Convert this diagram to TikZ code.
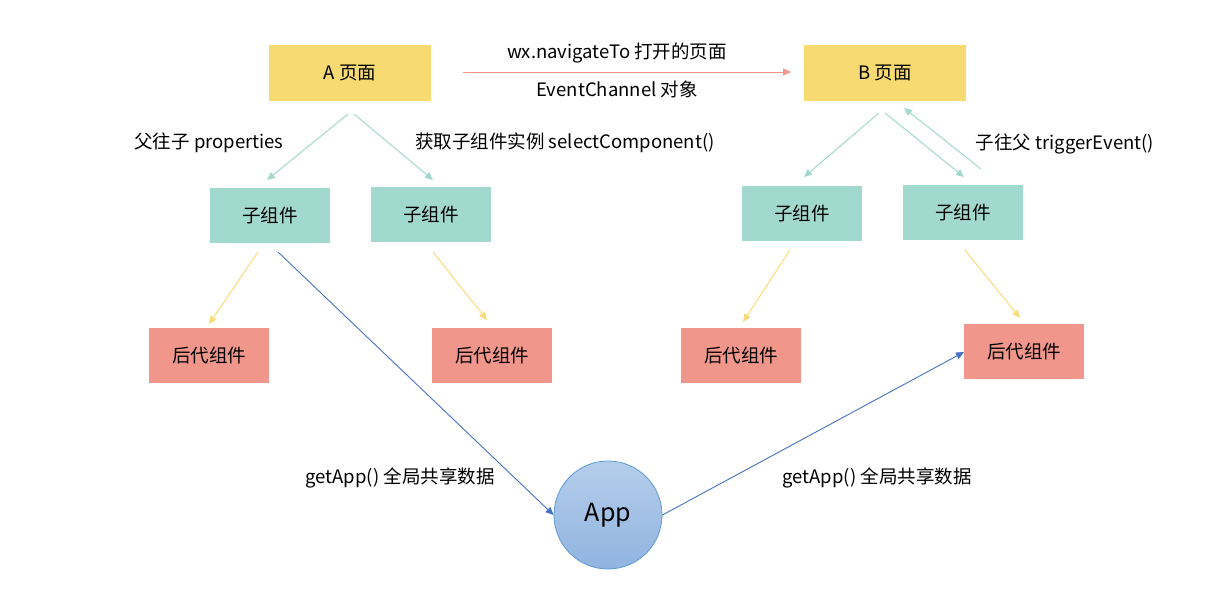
\documentclass[tikz,border=0pt]{standalone}
\usepackage{fontspec}
\setmainfont{Noto Sans CJK SC}
\usetikzlibrary{arrows.meta}
\definecolor{pageY}{HTML}{F7DA72}
\definecolor{childT}{HTML}{A2D9CE}
\definecolor{descR}{HTML}{F1968B}
\definecolor{appB}{HTML}{4472C4}
\definecolor{appEdge}{HTML}{5B9BD5}
\definecolor{arrY}{HTML}{F8DC7A}
\definecolor{appTop}{HTML}{B5CDEB}
\definecolor{appBot}{HTML}{90B4E0}
\tikzset{
  txt/.style={font=\fontsize{18.5}{22}\selectfont},
  pagebox/.style={txt,fill=pageY,minimum width=162pt,minimum height=56pt,inner sep=0pt},
  childbox/.style={txt,fill=childT,minimum width=120pt,minimum height=55pt,inner sep=0pt},
  descbox/.style={txt,fill=descR,minimum width=120pt,minimum height=55pt,inner sep=0pt},
  lbl/.style={txt,inner sep=0pt},
  tip/.style={-{Triangle[length=8pt,width=7pt]}},
  tarr/.style={tip,draw=childT,line width=1pt},
  yarr/.style={tip,draw=arrY,line width=1pt},
  barr/.style={tip,draw=appB,line width=0.9pt},
  rarr/.style={tip,draw=descR,line width=1pt},
}
\begin{document}
\begin{tikzpicture}[x=1pt,y=-1pt]
\useasboundingbox (0,0) rectangle (1214,598);
\fill[white] (0,0) rectangle (1214,598);
% pages
\node[pagebox] (A) at (350,73) {A 页面};
\node[pagebox] (B) at (885,73) {B 页面};
% children
\node[childbox] (c1) at (270,215) {子组件};
\node[childbox] (c2) at (431,214) {子组件};
\node[childbox] (c3) at (802,213) {子组件};
\node[childbox] (c4) at (963,212) {子组件};
% descendants
\node[descbox] (d1) at (209,355) {后代组件};
\node[descbox] (d2) at (492,355) {后代组件};
\node[descbox] (d3) at (741,355) {后代组件};
\node[descbox] (d4) at (1024,351) {后代组件};
% app
\node[circle,draw=appEdge,line width=0.8pt,top color=appTop,bottom color=appBot,minimum size=108pt,inner sep=0pt,font=\fontsize{25}{28}\selectfont] (app) at (608,515) {App};
% free ends
\coordinate (rs) at (463,72); \coordinate (re) at (791,72);
\coordinate (a1) at (348,114); \coordinate (a1e) at (267,180);
\coordinate (a2) at (354,114); \coordinate (a2e) at (433,180);
\coordinate (b1) at (879,113); \coordinate (b1e) at (804,177);
\coordinate (b2) at (885,113); \coordinate (b2e) at (964,177);
\coordinate (bu) at (981,169); \coordinate (bue) at (904,108);
\coordinate (y1) at (258,252); \coordinate (y1e) at (209,324);
\coordinate (y2) at (433,252); \coordinate (y2e) at (487,320);
\coordinate (y3) at (790,250); \coordinate (y3e) at (743,322);
\coordinate (y4) at (965,250); \coordinate (y4e) at (1020,318);
\coordinate (g1) at (278,252);
\coordinate (g2e) at (964,352);
% arrows
\draw[rarr] (rs) -- (re);
\draw[tarr] (a1) -- (a1e);
\draw[tarr] (a2) -- (a2e);
\draw[tarr] (b1) -- (b1e);
\draw[tarr] (b2) -- (b2e);
\draw[tarr] (bu) -- (bue);
\draw[yarr] (y1) -- (y1e);
\draw[yarr] (y2) -- (y2e);
\draw[yarr] (y3) -- (y3e);
\draw[yarr] (y4) -- (y4e);
\draw[barr] (g1) -- (app.west);
\draw[barr] (app.east) -- (g2e);
% labels
\node[lbl] (l1) at (617,53) {wx.navigateTo 打开的页面};
\node[lbl] (l2) at (617,89) {EventChannel 对象};
\node[lbl] (l3) at (209,143) {父往子 properties};
\node[lbl] (l4) at (565,143) {获取子组件实例 selectComponent()};
\node[lbl] (l5) at (1065,144) {子往父 triggerEvent()};
\node[lbl] (l6) at (400,478) {getApp() 全局共享数据};
\node[lbl] (l7) at (877,478) {getApp() 全局共享数据};
\end{tikzpicture}
\end{document}
